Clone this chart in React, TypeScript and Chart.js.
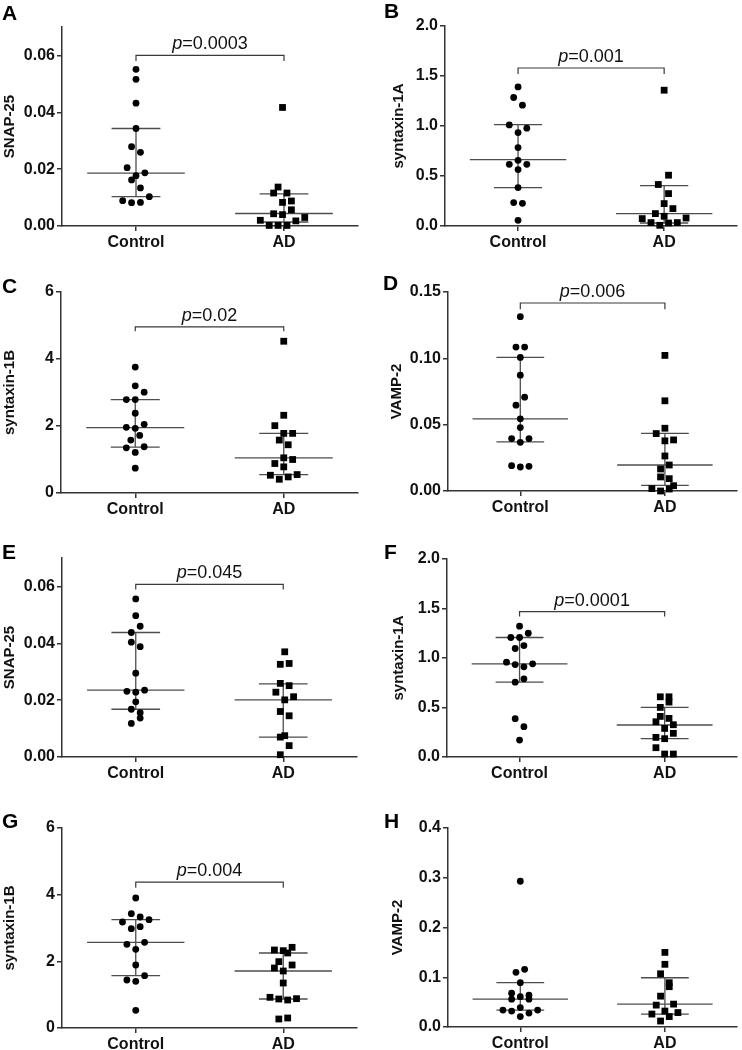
import React, { useEffect, useRef } from "react";
import { Chart, registerables } from "chart.js";
Chart.register(...registerables);

const FONT = "'Liberation Sans', Arial, Helvetica, sans-serif";
Chart.defaults.font.family = FONT;

// ---------- categories ----------
const groups = ["Control", "AD"];

// ---------- Panel A : SNAP-25 ----------
const aTicks = ["0.00", "0.02", "0.04", "0.06"];
const aMax = 0.07;
const aCtrl = [0.0551, 0.0516, 0.0432, 0.0343, 0.0279, 0.0259, 0.0205, 0.0177, 0.0187, 0.0162, 0.0134, 0.0089, 0.0082, 0.0083, 0.0103];
const aCtrlJitter = [0, 0, 0, 0, -0.03, 0.03, -0.06, 0, 0.06, -0.03, 0.03, -0.09, -0.03, 0.03, 0.09];
const aCtrlStats = [0.0186, 0.0103, 0.0343]; // median, q1, q3
const aAD = [0.0417, 0.0137, 0.0116, 0.0116, 0.0083, 0.0088, 0.0043, 0.004, 0.0057, 0.002, 0.0002, 0.0002, 0.0002, 0.0018, 0.003];
const aADJitter = [-0.01, -0.04, -0.07, 0.02, -0.01, 0.05, -0.07, -0.01, 0.05, -0.16, -0.1, -0.04, 0.02, 0.08, 0.14];
const aADStats = [0.0044, 0.0014, 0.0113];
const aBracket = [0.06, 0.058];
const aP = "0.0003";

// ---------- Panel B : syntaxin-1A ----------
const bTicks = ["0.0", "0.5", "1.0", "1.5", "2.0"];
const bMax = 2.0;
const bCtrl = [1.391, 1.285, 1.208, 1.011, 0.978, 0.934, 0.784, 0.657, 0.617, 0.617, 0.564, 0.384, 0.234, 0.227, 0.057];
const bCtrlJitter = [0, -0.03, 0.03, -0.06, 0.06, 0, 0, 0, -0.06, 0.06, 0, 0, -0.03, 0.03, 0];
const bCtrlStats = [0.664, 0.384, 1.014];
const bAD = [1.358, 0.508, 0.415, 0.324, 0.224, 0.174, 0.124, 0.097, 0.074, 0.08, 0.034, 0.007, 0.03, 0.034];
const bADJitter = [0, 0.03, -0.04, 0.03, 0, 0.06, -0.06, 0, -0.15, 0.15, -0.09, -0.03, 0.03, 0.09];
const bADStats = [0.124, 0.03, 0.404];
const bBracket = [1.58, 1.52];
const bP = "0.001";

// ---------- Panel C : syntaxin-1B ----------
const cTicks = ["0", "2", "4", "6"];
const cMax = 6;
const cCtrl = [3.76, 3.2, 3.01, 2.79, 2.79, 2.38, 1.96, 1.93, 2.05, 1.58, 1.72, 1.35, 1.38, 1.21, 0.74];
const cCtrlJitter = [0, 0, 0.06, -0.06, 0, 0, -0.06, 0, 0.06, -0.03, 0.03, -0.06, 0.06, 0, 0];
const cCtrlStats = [1.95, 1.37, 2.79];
const cAD = [4.53, 2.32, 2.01, 1.78, 1.78, 1.58, 1.44, 1.05, 0.88, 1.0, 0.78, 0.53, 0.41, 0.48, 0.55];
const cADJitter = [0, 0, -0.06, 0, 0.06, -0.03, 0.03, 0, -0.06, 0.06, 0, -0.09, -0.03, 0.03, 0.09];
const cADStats = [1.05, 0.55, 1.78];
const cBracket = [4.96, 4.83];
const cP = "0.02";

// ---------- Panel D : VAMP-2 ----------
const dTicks = ["0.00", "0.05", "0.10", "0.15"];
const dMax = 0.15;
const dCtrl = [0.1314, 0.1085, 0.1085, 0.1007, 0.0873, 0.0707, 0.0647, 0.0544, 0.0478, 0.0395, 0.0395, 0.0367, 0.0191, 0.0181, 0.0186];
const dCtrlJitter = [0, -0.03, 0.03, 0, 0, 0.03, -0.03, 0, 0, -0.06, 0.06, 0, -0.06, 0, 0.06];
const dCtrlStats = [0.0544, 0.037, 0.1007];
const dAD = [0.1022, 0.068, 0.0473, 0.0433, 0.0378, 0.0385, 0.0264, 0.0196, 0.0166, 0.0106, 0.0093, 0.004, 0.0018, 0.0, 0.0015];
const dADJitter = [0, 0, 0, -0.06, 0, 0.06, 0, 0.03, -0.03, -0.03, 0.03, 0.06, -0.09, -0.03, 0.03];
const dADStats = [0.0196, 0.0043, 0.0435];
const dBracket = [0.1417, 0.137];
const dP = "0.006";

// ---------- Panel E : SNAP-25 ----------
const eTicks = ["0.00", "0.02", "0.04", "0.06"];
const eMax = 0.07;
const eCtrl = [0.0556, 0.0497, 0.046, 0.0438, 0.0404, 0.0388, 0.0295, 0.0231, 0.0228, 0.0235, 0.0194, 0.0168, 0.0156, 0.0137, 0.0118];
const eCtrlJitter = [0, 0, 0.03, -0.03, -0.03, 0.03, 0, -0.06, 0, 0.06, 0, -0.03, 0.03, 0.03, -0.03];
const eCtrlStats = [0.0235, 0.0168, 0.0438];
const eAD = [0.037, 0.0326, 0.0329, 0.0259, 0.0251, 0.0228, 0.0212, 0.0201, 0.016, 0.0145, 0.007, 0.0075, 0.004, 0.0008];
const eADJitter = [0.01, -0.02, 0.04, -0.02, 0.04, -0.05, 0.07, 0.01, -0.02, 0.04, -0.02, 0.01, 0.04, -0.02];
const eADStats = [0.0201, 0.007, 0.0257];
const eBracket = [0.0607, 0.0589];
const eP = "0.045";

// ---------- Panel F : syntaxin-1A ----------
const fTicks = ["0.0", "0.5", "1.0", "1.5", "2.0"];
const fMax = 2.0;
const fCtrl = [1.321, 1.25, 1.207, 1.207, 1.126, 1.096, 0.958, 0.934, 0.911, 0.941, 0.756, 0.79, 0.387, 0.306, 0.171];
const fCtrlJitter = [0, 0.06, -0.06, 0, 0.03, -0.03, -0.09, -0.03, 0.03, 0.09, -0.03, 0.03, -0.03, 0.03, 0];
const fCtrlStats = [0.941, 0.756, 1.207];
const fAD = [0.608, 0.608, 0.555, 0.501, 0.41, 0.39, 0.356, 0.326, 0.289, 0.239, 0.198, 0.185, 0.094, 0.03, 0.03];
const fADJitter = [-0.03, 0.03, 0.03, -0.03, -0.03, 0.03, -0.06, 0.06, 0, 0.06, -0.06, 0, -0.06, 0, 0.06];
const fADStats = [0.323, 0.185, 0.501];
const fBracket = [1.468, 1.418];
const fP = "0.0001";

// ---------- Panel G : syntaxin-1B ----------
const gTicks = ["0", "2", "4", "6"];
const gMax = 6;
const gCtrl = [3.9, 3.43, 3.33, 3.18, 3.25, 2.98, 3.04, 2.51, 2.57, 2.36, 1.89, 1.44, 1.4, 1.57, 0.53];
const gCtrlJitter = [0, -0.03, 0.03, -0.09, 0.09, -0.03, 0.03, -0.06, 0.06, 0, 0, -0.06, 0, 0.06, 0];
const gCtrlStats = [2.57, 1.57, 3.25];
const gAD = [2.34, 2.32, 2.42, 2.25, 1.99, 1.89, 1.8, 1.71, 1.35, 0.92, 0.87, 0.84, 0.88, 0.27, 0.3];
const gADJitter = [-0.06, 0, 0.06, 0.03, -0.03, 0.06, -0.06, 0, 0, -0.09, -0.03, 0.03, 0.09, -0.03, 0.03];
const gADStats = [1.71, 0.87, 2.25];
const gBracket = [4.375, 4.21];
const gP = "0.004";

// ---------- Panel H : VAMP-2 ----------
const hTicks = ["0.0", "0.1", "0.2", "0.3", "0.4"];
const hMax = 0.4;
const hCtrl = [0.293, 0.11, 0.116, 0.089, 0.068, 0.056, 0.061, 0.064, 0.056, 0.034, 0.032, 0.039, 0.034, 0.028, 0.021];
const hCtrlJitter = [0, -0.03, 0.03, 0, -0.06, -0.06, 0, 0.06, 0.06, -0.12, -0.06, 0, 0.12, 0.06, 0];
const hCtrlStats = [0.056, 0.034, 0.089];
const hAD = [0.15, 0.126, 0.107, 0.089, 0.081, 0.062, 0.044, 0.046, 0.032, 0.026, 0.029, 0.021, 0.012];
const hADJitter = [0, 0, -0.03, 0.03, 0.03, -0.03, -0.06, 0.06, 0, -0.09, 0.09, 0.03, -0.03];
const hADStats = [0.046, 0.026, 0.099];

type PanelData = {
  letter: string;
  yTitle: string;
  yMax: number;
  ticks: string[];
  ctrl: number[];
  ctrlJ: number[];
  ctrlS: number[];
  ad: number[];
  adJ: number[];
  adS: number[];
  bracket: number[] | null;
  p: string | null;
};

const panels: PanelData[] = [
  { letter: "A", yTitle: "SNAP-25", yMax: aMax, ticks: aTicks, ctrl: aCtrl, ctrlJ: aCtrlJitter, ctrlS: aCtrlStats, ad: aAD, adJ: aADJitter, adS: aADStats, bracket: aBracket, p: aP },
  { letter: "B", yTitle: "syntaxin-1A", yMax: bMax, ticks: bTicks, ctrl: bCtrl, ctrlJ: bCtrlJitter, ctrlS: bCtrlStats, ad: bAD, adJ: bADJitter, adS: bADStats, bracket: bBracket, p: bP },
  { letter: "C", yTitle: "syntaxin-1B", yMax: cMax, ticks: cTicks, ctrl: cCtrl, ctrlJ: cCtrlJitter, ctrlS: cCtrlStats, ad: cAD, adJ: cADJitter, adS: cADStats, bracket: cBracket, p: cP },
  { letter: "D", yTitle: "VAMP-2", yMax: dMax, ticks: dTicks, ctrl: dCtrl, ctrlJ: dCtrlJitter, ctrlS: dCtrlStats, ad: dAD, adJ: dADJitter, adS: dADStats, bracket: dBracket, p: dP },
  { letter: "E", yTitle: "SNAP-25", yMax: eMax, ticks: eTicks, ctrl: eCtrl, ctrlJ: eCtrlJitter, ctrlS: eCtrlStats, ad: eAD, adJ: eADJitter, adS: eADStats, bracket: eBracket, p: eP },
  { letter: "F", yTitle: "syntaxin-1A", yMax: fMax, ticks: fTicks, ctrl: fCtrl, ctrlJ: fCtrlJitter, ctrlS: fCtrlStats, ad: fAD, adJ: fADJitter, adS: fADStats, bracket: fBracket, p: fP },
  { letter: "G", yTitle: "syntaxin-1B", yMax: gMax, ticks: gTicks, ctrl: gCtrl, ctrlJ: gCtrlJitter, ctrlS: gCtrlStats, ad: gAD, adJ: gADJitter, adS: gADStats, bracket: gBracket, p: gP },
  { letter: "H", yTitle: "VAMP-2", yMax: hMax, ticks: hTicks, ctrl: hCtrl, ctrlJ: hCtrlJitter, ctrlS: hCtrlStats, ad: hAD, adJ: hADJitter, adS: hADStats, bracket: null, p: null },
];

// ---------- layout (canvas-local pixel geometry, not data) ----------
const CW = 371;
const CH = 270;
const layouts = [
  { x: 0, y: 0, left: 62, top: 27, right: 358, bottom: 226, titleX: 10, letterX: 2, letterY: 20 },
  { x: 371, y: 0, left: 74, top: 26, right: 368, bottom: 226, titleX: 28, letterX: 13, letterY: 18 },
  { x: 0, y: 260, left: 61, top: 32, right: 358, bottom: 233, titleX: 10, letterX: 2, letterY: 33 },
  { x: 371, y: 260, left: 77, top: 32, right: 369, bottom: 231, titleX: 26, letterX: 12, letterY: 30 },
  { x: 0, y: 520, left: 62, top: 38, right: 357, bottom: 237, titleX: 10, letterX: 2, letterY: 39 },
  { x: 371, y: 520, left: 76, top: 39, right: 370, bottom: 237, titleX: 28, letterX: 13, letterY: 39 },
  { x: 0, y: 780, left: 62, top: 48, right: 357, bottom: 248, titleX: 10, letterX: 2, letterY: 48 },
  { x: 371, y: 780, left: 77, top: 48, right: 370, bottom: 247, titleX: 27, letterX: 13, letterY: 48 },
];

const MED_HALF = 0.33;
const IQR_HALF = 0.165;
const AXIS_COLOR = "#333333";
const STAT_COLOR = "#4d4d4d";
const BRACKET_COLOR = "#3a3a3a";
const TEXT_COLOR = "#111111";

function lineDs(points: { x: number; y: number }[], color: string, width: number) {
  return {
    type: "scatter" as const,
    data: points,
    showLine: true,
    borderColor: color,
    backgroundColor: color,
    borderWidth: width,
    pointRadius: 0,
    pointHoverRadius: 0,
    clip: false as const,
    order: 2,
  };
}

function statDatasets(center: number, s: number[]) {
  const [med, q1, q3] = s;
  return [
    lineDs([{ x: center, y: q1 }, { x: center, y: q3 }], STAT_COLOR, 1.3),
    lineDs([{ x: center - MED_HALF, y: med }, { x: center + MED_HALF, y: med }], STAT_COLOR, 1.3),
    lineDs([{ x: center - IQR_HALF, y: q3 }, { x: center + IQR_HALF, y: q3 }], STAT_COLOR, 1.3),
    lineDs([{ x: center - IQR_HALF, y: q1 }, { x: center + IQR_HALF, y: q1 }], STAT_COLOR, 1.3),
  ];
}

function Panel({ d, lay }: { d: PanelData; lay: (typeof layouts)[number] }) {
  const ref = useRef<HTMLCanvasElement | null>(null);
  useEffect(() => {
    if (!ref.current) return;
    const tickVals = d.ticks.map((t) => parseFloat(t));
    const datasets: any[] = [
      ...statDatasets(0, d.ctrlS),
      ...statDatasets(1, d.adS),
    ];
    if (d.bracket) {
      const [top, foot] = d.bracket;
      datasets.push(
        lineDs(
          [
            { x: 0, y: foot },
            { x: 0, y: top },
            { x: 1, y: top },
            { x: 1, y: foot },
          ],
          BRACKET_COLOR,
          1.2
        )
      );
    }
    datasets.push({
      type: "scatter",
      data: d.ctrl.map((v, i) => ({ x: 0 + d.ctrlJ[i], y: v })),
      pointStyle: "circle",
      pointRadius: 3.4,
      pointHoverRadius: 3.4,
      backgroundColor: "#000",
      borderColor: "#000",
      borderWidth: 0,
      clip: false,
      order: 0,
    });
    datasets.push({
      type: "scatter",
      data: d.ad.map((v, i) => ({ x: 1 + d.adJ[i], y: v })),
      pointStyle: "rect",
      pointRadius: 4.8,
      pointHoverRadius: 4.8,
      backgroundColor: "#000",
      borderColor: "#000",
      borderWidth: 0,
      clip: false,
      order: 0,
    });

    const annot = {
      id: "annot",
      afterDraw(chart: any) {
        const ctx = chart.ctx;
        ctx.save();
        ctx.fillStyle = "#000";
        ctx.textAlign = "left";
        ctx.textBaseline = "alphabetic";
        ctx.font = `bold 21px ${FONT}`;
        ctx.fillText(d.letter, lay.letterX, lay.letterY);
        if (d.bracket && d.p) {
          const xs = chart.scales.x;
          const ys = chart.scales.y;
          const cx = (xs.getPixelForValue(0) + xs.getPixelForValue(1)) / 2;
          const by = ys.getPixelForValue(d.bracket[0]) - 6;
          const fItal = `italic 18px ${FONT}`;
          const fReg = `18px ${FONT}`;
          ctx.font = fItal;
          const w1 = ctx.measureText("p").width;
          ctx.font = fReg;
          const rest = "=" + d.p;
          const w2 = ctx.measureText(rest).width;
          const x0 = cx - (w1 + w2) / 2;
          ctx.fillStyle = TEXT_COLOR;
          ctx.font = fItal;
          ctx.fillText("p", x0, by);
          ctx.font = fReg;
          ctx.fillText(rest, x0 + w1, by);
        }
        ctx.restore();
      },
    };

    const chart = new Chart(ref.current, {
      type: "scatter",
      data: { datasets },
      options: {
        animation: false,
        responsive: false,
        devicePixelRatio: 1,
        events: [],
        layout: {
          padding: { left: 0, top: lay.top, right: CW - lay.right, bottom: 0 },
        },
        plugins: {
          legend: { display: false },
          tooltip: { enabled: false },
        },
        scales: {
          x: {
            type: "linear",
            min: -0.5,
            max: 1.5,
            afterBuildTicks: (s: any) => {
              s.ticks = groups.map((_, i) => ({ value: i }));
            },
            afterFit: (s: any) => {
              s.height = CH - lay.bottom;
            },
            ticks: {
              autoSkip: false,
              maxRotation: 0,
              padding: 2,
              color: TEXT_COLOR,
              font: { size: 16, weight: "bold", family: FONT },
              callback: (v: any) => groups[Math.round(Number(v))] ?? "",
            },
            grid: {
              display: true,
              drawOnChartArea: false,
              drawTicks: true,
              tickLength: 5,
              color: AXIS_COLOR,
              lineWidth: 1.5,
            },
            border: { display: true, color: AXIS_COLOR, width: 1.5 },
          },
          y: {
            type: "linear",
            min: 0,
            max: d.yMax,
            afterBuildTicks: (s: any) => {
              s.ticks = tickVals.map((v) => ({ value: v }));
            },
            afterFit: (s: any) => {
              s.width = lay.left;
            },
            ticks: {
              padding: 2,
              color: TEXT_COLOR,
              font: { size: 16, weight: "bold", family: FONT },
              callback: (_v: any, i: number) => d.ticks[i],
            },
            grid: {
              display: true,
              drawOnChartArea: false,
              drawTicks: true,
              tickLength: 5,
              color: AXIS_COLOR,
              lineWidth: 1.5,
            },
            border: { display: true, color: AXIS_COLOR, width: 1.5 },
            title: {
              display: true,
              text: d.yTitle,
              color: TEXT_COLOR,
              font: { size: 15, weight: "bold", family: FONT, lineHeight: 1.2 },
              padding: { top: lay.titleX - 9, bottom: 0 },
            },
          },
        },
      } as any,
      plugins: [annot],
    });
    return () => chart.destroy();
  }, []);
  return (
    <canvas
      ref={ref}
      width={CW}
      height={CH}
      style={{ position: "absolute", left: lay.x, top: lay.y, width: CW, height: CH }}
    />
  );
}

export default function App() {
  return (
    <div
      style={{
        position: "absolute",
        left: 0,
        top: 0,
        width: 742,
        height: 1050,
        background: "#fff",
        overflow: "hidden",
      }}
    >
      {panels.map((d, i) => (
        <Panel key={d.letter} d={d} lay={layouts[i]} />
      ))}
    </div>
  );
}
